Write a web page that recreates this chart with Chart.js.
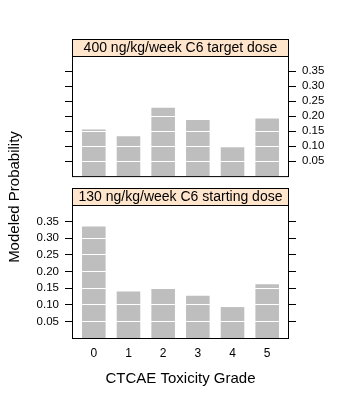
<!DOCTYPE html>
<html>
<head>
<meta charset="utf-8">
<script src="https://cdn.jsdelivr.net/npm/chart.js@4.4.0/dist/chart.umd.min.js"></script>
<style>
  html, body { margin: 0; padding: 0; background: #fff; }
  #wrap { position: relative; width: 350px; height: 400px; }
  canvas { position: absolute; left: 0; top: 0; }
</style>
</head>
<body>
<div id="wrap">
  <canvas id="lowerPanel" width="350" height="400"></canvas>
  <canvas id="upperPanel" width="350" height="189"></canvas>
</div>
<script>
// values
const grades = ['0', '1', '2', '3', '4', '5'];
const targetDose = [0.155, 0.133, 0.228, 0.187, 0.096, 0.192];
const startDose = [0.335, 0.140, 0.149, 0.127, 0.093, 0.162];
const yTicks = [0.05, 0.10, 0.15, 0.20, 0.25, 0.30, 0.35];
const stripLabels = ['400 ng/kg/week C6 target dose', '130 ng/kg/week C6 starting dose'];
const xTitle = 'CTCAE Toxicity Grade';
const yTitle = 'Modeled Probability';

const FONT = "'Liberation Sans', Arial, Helvetica, sans-serif";
const yMax = 0.397;

// lattice-like panel frame + strip on top
const panelFrame = {
  id: 'panelFrame',
  afterDraw(chart, args, opts) {
    const { ctx, chartArea: a } = chart;
    const x0 = a.left - 0.5, x1 = a.right + 0.5;
    const y0 = a.top - 0.5, y1 = a.bottom + 0.5;
    ctx.save();
    ctx.lineWidth = 1;
    ctx.strokeStyle = '#000';
    ctx.strokeRect(x0, y0, x1 - x0, y1 - y0);
    ctx.fillStyle = '#FFE5CC';
    ctx.fillRect(x0, y0 - 17, x1 - x0, 17);
    ctx.strokeRect(x0, y0 - 17, x1 - x0, 17);
    ctx.fillStyle = '#000';
    ctx.font = '14px ' + FONT;
    ctx.textAlign = 'center';
    ctx.textBaseline = 'middle';
    ctx.fillText(opts.label, (x0 + x1) / 2, y0 - 8);
    if (opts.titles) {
      ctx.font = '15px ' + FONT;
      ctx.fillText(xTitle, (x0 + x1) / 2, 379);
      ctx.translate(15, 197);
      ctx.rotate(-Math.PI / 2);
      ctx.fillText(yTitle, 0, 0);
    }
    ctx.restore();
  }
};

function makeScales(labelsLeft, showX) {
  const tickFont = { family: FONT, size: 11.5 };
  return {
    x: {
      type: 'linear',
      display: showX,
      offset: false,
      min: 0.4,
      max: 6.6,
      afterBuildTicks: s => { s.ticks = grades.map((g, i) => ({ value: i + 1 })); },
      afterFit: s => { s.height = showX ? 62 : 0; },
      ticks: { callback: (v, i) => grades[i], color: '#000', font: { family: FONT, size: 12 }, padding: 8, maxRotation: 0, autoSkip: false },
      grid: { display: false, drawTicks: false, tickLength: 0 },
      border: { display: false }
    },
    y: {
      position: 'left',
      min: 0,
      max: yMax,
      afterBuildTicks: s => { s.ticks = yTicks.map(v => ({ value: v })); },
      afterFit: s => { s.width = 73; },
      ticks: { display: labelsLeft, callback: v => v.toFixed(2), color: '#000', font: tickFont, padding: 6 },
      grid: { color: '#fff', lineWidth: 1, z: 1, tickColor: '#000', tickLength: 8 },
      border: { display: false }
    },
    y2: {
      position: 'right',
      min: 0,
      max: yMax,
      afterBuildTicks: s => { s.ticks = yTicks.map(v => ({ value: v })); },
      afterFit: s => { s.width = 62; },
      ticks: { display: !labelsLeft, callback: v => v.toFixed(2), color: '#000', font: tickFont, padding: 6 },
      grid: { drawOnChartArea: false, tickColor: '#000', tickLength: 8 },
      border: { display: false }
    }
  };
}

function panel(id, values, stripLabel, labelsLeft, showX, padding, titles) {
  return new Chart(document.getElementById(id), {
    type: 'bar',
    data: {
      datasets: [{
        data: values.map((v, i) => ({ x: i + 1, y: v })),
        backgroundColor: '#BEBEBE',
        borderWidth: 0,
        barPercentage: 0.68,
        categoryPercentage: 1,
        xAxisID: 'x',
        yAxisID: 'y'
      }]
    },
    options: {
      responsive: false,
      animation: false,
      devicePixelRatio: 1,
      layout: { padding: padding },
      plugins: {
        legend: { display: false },
        tooltip: { enabled: false },
        panelFrame: { label: stripLabel, titles: titles }
      },
      scales: makeScales(labelsLeft, showX)
    },
    plugins: [panelFrame]
  });
}

panel('lowerPanel', startDose, stripLabels[1], true, true, { top: 206, left: 0, right: 0, bottom: 0 }, true);
panel('upperPanel', targetDose, stripLabels[0], false, false, { top: 57, left: 0, right: 0, bottom: 1 }, false);
</script>
</body>
</html>
